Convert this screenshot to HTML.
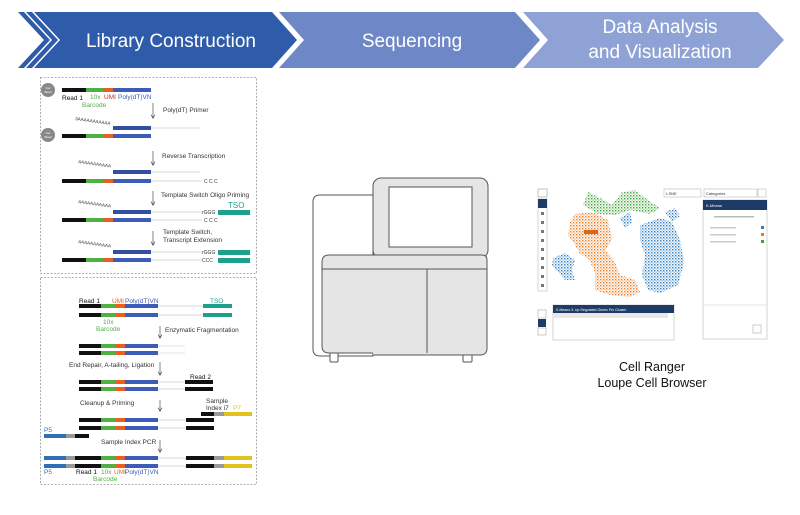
<!DOCTYPE html>
<html><head><meta charset="utf-8"><style>
html,body{margin:0;padding:0;background:#fff;}
body{width:800px;height:510px;overflow:hidden;}
text{font-family:"Liberation Sans",sans-serif;}
</style></head><body>
<svg width="800" height="510" viewBox="0 0 800 510" xmlns="http://www.w3.org/2000/svg">
<defs>
<pattern id="pb" width="3" height="3" patternUnits="userSpaceOnUse"><rect x="0" y="0" width="1.4" height="1.4" fill="#2f7ec4"/><rect x="1.5" y="1.5" width="1.2" height="1.2" fill="#5fa3dc"/></pattern>
<pattern id="po" width="3" height="3" patternUnits="userSpaceOnUse"><rect x="0" y="0" width="1.4" height="1.4" fill="#ee7a22"/><rect x="1.5" y="1.5" width="1.2" height="1.2" fill="#f6a866"/></pattern>
<pattern id="pg" width="3" height="3" patternUnits="userSpaceOnUse"><rect x="0" y="0" width="1.4" height="1.4" fill="#3fa33a"/><rect x="1.5" y="1.5" width="1.2" height="1.2" fill="#7cc475"/></pattern>
<marker id="ah" markerWidth="4" markerHeight="4" refX="2" refY="3.5" orient="0" markerUnits="userSpaceOnUse"><path d="M0,0 L2,4 L4,0" fill="none" stroke="#333" stroke-width="0.6"/></marker>
</defs>

<!-- chevrons -->
<polygon points="18,12 24,12 50,40 24,68 18,68 44,40" fill="#2f5caa"/>
<polygon points="26,12 32,12 58,40 32,68 26,68 52,40" fill="#2f5caa"/>
<polygon points="34,12 272,12 297,40 272,68 34,68 60,40" fill="#2f5caa"/>
<polygon points="279,12 515,12 540,40 515,68 279,68 304,40" fill="#6e87c6"/>
<polygon points="523,12 758,12 784,40 758,68 523,68 548,40" fill="#8fa2d5"/>
<text x="171" y="47" font-size="19" fill="#fff" text-anchor="middle">Library Construction</text>
<text x="412" y="47" font-size="19" fill="#fff" text-anchor="middle">Sequencing</text>
<text x="660" y="33" font-size="19" fill="#fff" text-anchor="middle">Data Analysis</text>
<text x="660" y="58" font-size="19" fill="#fff" text-anchor="middle">and Visualization</text>

<!-- panels -->
<rect x="40.5" y="77.5" width="216" height="196" fill="none" stroke="#999" stroke-dasharray="2,1.5" stroke-width="0.8"/>
<rect x="40.5" y="277.5" width="216" height="207" fill="none" stroke="#999" stroke-dasharray="2,1.5" stroke-width="0.8"/>

<g font-size="6.5" fill="#333">
<!-- row1 -->
<circle cx="48" cy="90" r="7" fill="#888"/><text x="48" y="89" font-size="3" fill="#fff" text-anchor="middle">Gel</text><text x="48" y="93" font-size="3" fill="#fff" text-anchor="middle">Bead</text>
<rect x="62" y="88" width="24" height="4" fill="#111"/><rect x="86" y="88" width="17" height="4" fill="#4fb043"/><rect x="103" y="88" width="10" height="4" fill="#e8601c"/><rect x="113" y="88" width="38" height="4" fill="#3d5cb8"/>
<text x="62" y="100" fill="#111">Read 1</text><text x="90" y="99" fill="#4fb043">10x</text><text x="82" y="107" fill="#4fb043">Barcode</text><text x="104" y="99" fill="#d22">UMI</text><text x="118" y="99" fill="#3d5cb8">Poly(dT)VN</text>
<line x1="153" y1="103" x2="153" y2="118" stroke="#333" stroke-width="0.6" marker-end="url(#ah)"/><text x="163" y="112">Poly(dT) Primer</text>
<!-- row2 -->
<text x="75" y="120" font-size="4.5" transform="rotate(8 75 120)">3AAAAAAAAAAA</text>
<rect x="113" y="126" width="38" height="4" fill="#344f9e"/><line x1="151" y1="128" x2="200" y2="128" stroke="#ccc" stroke-width="0.8"/>
<circle cx="48" cy="135" r="7" fill="#888"/><text x="48" y="134" font-size="3" fill="#fff" text-anchor="middle">Gel</text><text x="48" y="138" font-size="3" fill="#fff" text-anchor="middle">Bead</text>
<rect x="62" y="134" width="24" height="4" fill="#111"/><rect x="86" y="134" width="17" height="4" fill="#4fb043"/><rect x="103" y="134" width="10" height="4" fill="#e8601c"/><rect x="113" y="134" width="38" height="4" fill="#3d5cb8"/>
<line x1="153" y1="151" x2="153" y2="165" stroke="#333" stroke-width="0.6" marker-end="url(#ah)"/><text x="162" y="158">Reverse Transcription</text>
<!-- row3 -->
<text x="78" y="163" font-size="4.5" transform="rotate(8 78 163)">AAAAAAAAAAA</text>
<rect x="113" y="170" width="38" height="4" fill="#344f9e"/><line x1="151" y1="172" x2="200" y2="172" stroke="#ccc" stroke-width="0.8"/>
<rect x="62" y="179" width="24" height="4" fill="#111"/><rect x="86" y="179" width="17" height="4" fill="#4fb043"/><rect x="103" y="179" width="10" height="4" fill="#e8601c"/><rect x="113" y="179" width="38" height="4" fill="#3d5cb8"/><line x1="151" y1="181" x2="202" y2="181" stroke="#ccc" stroke-width="0.8"/><text x="204" y="183" font-size="5">C C C</text>
<line x1="153" y1="191" x2="153" y2="205" stroke="#333" stroke-width="0.6" marker-end="url(#ah)"/><text x="161" y="197">Template Switch Oligo Priming</text>
<!-- row4 -->
<text x="78" y="203" font-size="4.5" transform="rotate(8 78 203)">AAAAAAAAAAA</text>
<rect x="113" y="210" width="38" height="4" fill="#344f9e"/><line x1="151" y1="212" x2="202" y2="212" stroke="#ccc" stroke-width="0.8"/><text x="202" y="214" font-size="5">rGGG</text><rect x="218" y="210" width="32" height="5" fill="#1fa08f"/>
<text x="228" y="208" fill="#1fa08f" font-size="8">TSO</text>
<rect x="62" y="218" width="24" height="4" fill="#111"/><rect x="86" y="218" width="17" height="4" fill="#4fb043"/><rect x="103" y="218" width="10" height="4" fill="#e8601c"/><rect x="113" y="218" width="38" height="4" fill="#3d5cb8"/><line x1="151" y1="220" x2="202" y2="220" stroke="#ccc" stroke-width="0.8"/><text x="204" y="222" font-size="5">C C C</text>
<line x1="153" y1="231" x2="153" y2="245" stroke="#333" stroke-width="0.6" marker-end="url(#ah)"/><text x="163" y="234">Template Switch,</text><text x="163" y="242">Transcript Extension</text>
<!-- row5 -->
<text x="78" y="243" font-size="4.5" transform="rotate(8 78 243)">AAAAAAAAAAA</text>
<rect x="113" y="250" width="38" height="4" fill="#344f9e"/><line x1="151" y1="252" x2="202" y2="252" stroke="#ccc" stroke-width="0.8"/><text x="202" y="254" font-size="5">rGGG</text><rect x="218" y="250" width="32" height="5" fill="#1fa08f"/>
<rect x="62" y="258" width="24" height="4" fill="#111"/><rect x="86" y="258" width="17" height="4" fill="#4fb043"/><rect x="103" y="258" width="10" height="4" fill="#e8601c"/><rect x="113" y="258" width="38" height="4" fill="#3d5cb8"/><line x1="151" y1="260" x2="202" y2="260" stroke="#ccc" stroke-width="0.8"/><text x="202" y="262" font-size="5">CCC</text><rect x="218" y="258" width="32" height="5" fill="#1fa08f"/>

<!-- bottom panel -->
<text x="79" y="303" fill="#111">Read 1</text><text x="112" y="303" fill="#e8601c">UMI</text><text x="125" y="303" fill="#3d5cb8">Poly(dT)VN</text><text x="210" y="303" fill="#1fa08f">TSO</text>
<g id="m1"><rect x="79" y="304" width="22" height="4" fill="#111"/><rect x="101" y="304" width="15" height="4" fill="#4fb043"/><rect x="116" y="304" width="9" height="4" fill="#e8601c"/><rect x="125" y="304" width="33" height="4" fill="#3d5cb8"/></g>
<line x1="158" y1="306" x2="203" y2="306" stroke="#ccc" stroke-width="0.8"/><rect x="203" y="304" width="29" height="4" fill="#1fa08f"/>
<use href="#m1" y="9"/><line x1="158" y1="315" x2="203" y2="315" stroke="#ccc" stroke-width="0.8"/><rect x="203" y="313" width="29" height="4" fill="#1fa08f"/>
<text x="103" y="324" fill="#4fb043">10x</text><text x="96" y="331" fill="#4fb043">Barcode</text>
<line x1="160" y1="326" x2="160" y2="338" stroke="#333" stroke-width="0.6" marker-end="url(#ah)"/><text x="165" y="332">Enzymatic Fragmentation</text>
<use href="#m1" y="40"/><line x1="158" y1="346" x2="185" y2="346" stroke="#ddd" stroke-width="0.8"/>
<use href="#m1" y="47"/><line x1="158" y1="353" x2="185" y2="353" stroke="#ddd" stroke-width="0.8"/>
<text x="69" y="367">End Repair, A-tailing, Ligation</text><line x1="160" y1="362" x2="160" y2="375" stroke="#333" stroke-width="0.6" marker-end="url(#ah)"/>
<text x="190" y="379" fill="#111">Read 2</text>
<use href="#m1" y="76"/><line x1="158" y1="382" x2="185" y2="382" stroke="#ccc" stroke-width="0.8"/><rect x="185" y="380" width="28" height="4" fill="#111"/>
<use href="#m1" y="83"/><line x1="158" y1="389" x2="185" y2="389" stroke="#ccc" stroke-width="0.8"/><rect x="185" y="387" width="28" height="4" fill="#111"/>
<text x="80" y="405">Cleanup &amp; Priming</text><line x1="160" y1="400" x2="160" y2="411" stroke="#333" stroke-width="0.6" marker-end="url(#ah)"/>
<text x="206" y="403">Sample</text><text x="206" y="410">Index i7</text><text x="233" y="410" fill="#e2c21c">P7</text>
<rect x="201" y="412" width="13" height="4" fill="#111"/><rect x="214" y="412" width="10" height="4" fill="#999"/><rect x="224" y="412" width="28" height="4" fill="#e2c21c"/>
<use href="#m1" y="114"/><line x1="158" y1="420" x2="186" y2="420" stroke="#ccc" stroke-width="0.8"/><rect x="186" y="418" width="28" height="4" fill="#111"/>
<use href="#m1" y="122"/><line x1="158" y1="428" x2="186" y2="428" stroke="#ccc" stroke-width="0.8"/><rect x="186" y="426" width="28" height="4" fill="#111"/>
<text x="44" y="432" fill="#2f6fb8">P5</text>
<rect x="44" y="434" width="22" height="4" fill="#2f6fb8"/><rect x="66" y="434" width="9" height="4" fill="#999"/><rect x="75" y="434" width="14" height="4" fill="#111"/>
<text x="101" y="444">Sample Index PCR</text><line x1="160" y1="440" x2="160" y2="452" stroke="#333" stroke-width="0.6" marker-end="url(#ah)"/>
<g id="m2"><rect x="44" y="456" width="22" height="4" fill="#2f6fb8"/><rect x="66" y="456" width="9" height="4" fill="#999"/><rect x="75" y="456" width="26" height="4" fill="#111"/><rect x="101" y="456" width="15" height="4" fill="#4fb043"/><rect x="116" y="456" width="9" height="4" fill="#e8601c"/><rect x="125" y="456" width="33" height="4" fill="#3d5cb8"/><line x1="158" y1="458" x2="186" y2="458" stroke="#ccc" stroke-width="0.8"/><rect x="186" y="456" width="28" height="4" fill="#111"/><rect x="214" y="456" width="10" height="4" fill="#999"/><rect x="224" y="456" width="28" height="4" fill="#e2c21c"/></g>
<use href="#m2" y="8"/>
<text x="44" y="474" fill="#2f6fb8">P5</text><text x="76" y="474" fill="#111">Read 1</text><text x="101" y="474" fill="#4fb043">10x</text><text x="114" y="474" fill="#e8601c">UMI</text><text x="125" y="474" fill="#3d5cb8">Poly(dT)VN</text>
<text x="93" y="481" fill="#4fb043">Barcode</text>
</g>

<!-- instrument -->
<g stroke="#555" stroke-width="1" fill="#fff">
<path d="M373,195 H320 Q313,195 313,202 V349 Q313,356 320,356 H373 Z"/>
<rect x="373" y="178" width="115" height="80" rx="8" fill="#e5e5e5"/>
<rect x="389" y="187" width="83" height="60" fill="#fff"/>
<rect x="330" y="352" width="8" height="10" rx="1" fill="#fff"/><rect x="463" y="352" width="9" height="10" rx="1" fill="#fff"/>
<path d="M373,355 H480 Q487,355 487,348 V260 Q487,255 482,255 H329 Q322,255 322,262 V346 Q322,353 329,353 H373" fill="#e5e5e5"/>
<line x1="322" y1="269" x2="487" y2="269"/>
<line x1="427" y1="269" x2="427" y2="353"/>
</g>

<!-- screenshot -->
<g>
<rect x="538" y="189" width="9" height="8" fill="#fff" stroke="#999" stroke-width="0.6"/>
<rect x="538" y="199" width="9" height="92" fill="#fff" stroke="#bbb" stroke-width="0.6"/>
<rect x="538" y="199" width="9" height="9" fill="#1e3a66"/>
<g fill="#777"><rect x="541" y="212" width="3" height="3"/><rect x="541" y="221" width="3" height="3"/><rect x="541" y="230" width="3" height="3"/><rect x="541" y="239" width="3" height="3"/><rect x="541" y="248" width="3" height="3"/><rect x="541" y="257" width="3" height="3"/><rect x="541" y="266" width="3" height="3"/><rect x="541" y="275" width="3" height="3"/><rect x="541" y="284" width="3" height="3"/></g>
<!-- clusters -->
<path d="M588,192 L600,198 L612,205 L622,192 L635,190 L648,200 L660,208 L650,214 L630,210 L615,215 L598,214 L583,205 Z" fill="url(#pg)"/>
<path d="M575,214 L592,212 L608,220 L612,240 L605,250 L615,262 L620,275 L635,280 L640,292 L630,297 L610,295 L595,290 L595,272 L588,258 L580,254 L575,245 L568,235 L570,222 Z" fill="url(#po)"/>
<path d="M640,225 L660,218 L672,222 L680,240 L684,262 L678,285 L660,293 L648,290 L642,275 L645,255 L640,240 Z" fill="url(#pb)"/>
<path d="M665,212 L675,208 L680,216 L672,222 Z" fill="url(#pb)"/>
<path d="M620,218 L630,212 L632,222 L625,228 Z" fill="url(#pb)"/>
<path d="M553,258 L565,253 L575,260 L572,270 L575,280 L565,280 L558,272 L552,266 Z" fill="url(#pb)"/>
<rect x="584" y="230" width="14" height="4" fill="#d2691e"/>
<!-- dropdowns -->
<rect x="664" y="189" width="37" height="8" fill="#fff" stroke="#aaa" stroke-width="0.5"/>
<text x="666" y="195" font-size="4" fill="#333">t-SNE</text>
<rect x="704" y="189" width="53" height="8" fill="#fff" stroke="#aaa" stroke-width="0.5"/>
<text x="706" y="195" font-size="4" fill="#333">Categories</text>
<rect x="758" y="189" width="8" height="8" fill="#fff" stroke="#aaa" stroke-width="0.5"/>
<rect x="703" y="200" width="64" height="139" fill="#fff" stroke="#bbb" stroke-width="0.6"/>
<rect x="703" y="200" width="64" height="10" fill="#1e3a66"/>
<text x="706" y="207" font-size="4" fill="#fff">K-Means</text>
<rect x="714" y="216" width="40" height="1.5" fill="#bbb"/>
<rect x="710" y="227" width="26" height="1.5" fill="#ccc"/><rect x="710" y="234" width="26" height="1.5" fill="#ccc"/><rect x="710" y="241" width="26" height="1.5" fill="#ccc"/>
<rect x="761" y="226" width="3" height="3" fill="#2f7ec4"/><rect x="761" y="233" width="3" height="3" fill="#ee7a22"/><rect x="761" y="240" width="3" height="3" fill="#3fa33a"/>
<line x1="703" y1="305" x2="767" y2="305" stroke="#ccc" stroke-width="0.5"/>
<rect x="753" y="325" width="8" height="8" fill="#fff" stroke="#999" stroke-width="0.5"/>
<rect x="553" y="305" width="121" height="35" fill="#fff" stroke="#bbb" stroke-width="0.6"/>
<rect x="553" y="305" width="121" height="8" fill="#1e3a66"/>
<text x="556" y="311" font-size="3.5" fill="#fff">K-Means 3: Up-Regulated Genes Per Cluster</text>
<rect x="553" y="313" width="115" height="5" fill="#e8e8e8"/>
<rect x="538" y="310" width="8" height="8" fill="#fff" stroke="#999" stroke-width="0.5"/>
<rect x="538" y="319" width="8" height="8" fill="#1e3a66"/>
<rect x="538" y="328" width="8" height="7" fill="#fff" stroke="#999" stroke-width="0.5"/>
</g>
<text x="652" y="371" font-size="12.5" fill="#111" text-anchor="middle">Cell Ranger</text>
<text x="652" y="387" font-size="12.5" fill="#111" text-anchor="middle">Loupe Cell Browser</text>
</svg>
</body></html>
